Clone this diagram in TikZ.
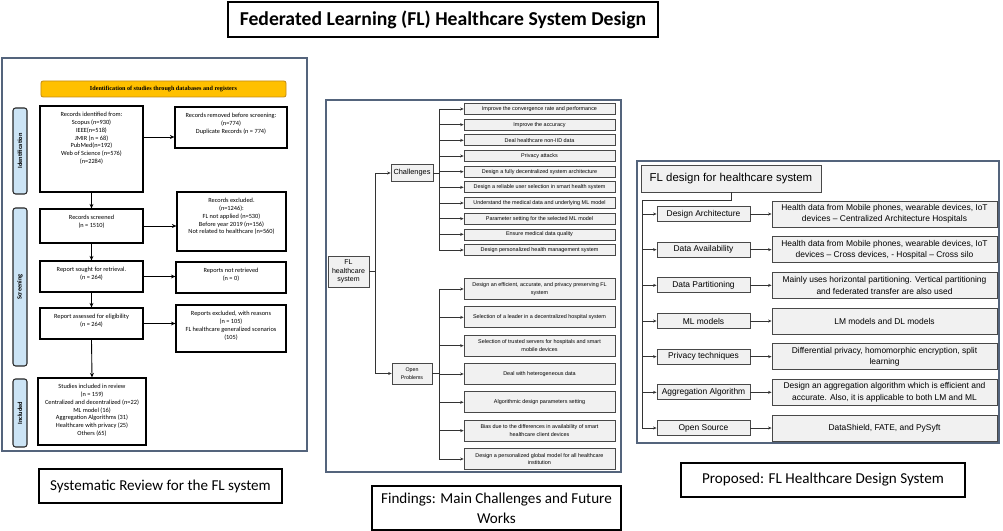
\documentclass[tikz,border=0pt]{standalone}
\usepackage{fontspec}
\setmainfont{Carlito}
\newfontfamily\arialfont{Liberation Sans}
\newfontfamily\timesfont{Liberation Serif}
\usepackage{tikz}
\usetikzlibrary{positioning}
\usetikzlibrary {arrows.meta}
\definecolor{panelline}{RGB}{84,100,124}
\definecolor{sideblue}{RGB}{204,228,245}
\definecolor{headyellow}{RGB}{255,192,0}
\definecolor{headline}{RGB}{196,140,20}
\definecolor{boxfill}{RGB}{241,241,241}
\definecolor{boxline}{RGB}{72,72,72}
\newcommand{\toplines}[3]{\parbox[c][#2][t]{#1}{\centering\vspace*{1.1mm}\begin{tabular}{@{}c@{}}#3\end{tabular}\par}}
\tikzset{prisma/.style={rectangle,draw=black,fill=white,line width=0.7pt,
inner sep=0pt,font=\fontsize{3.6pt}{4.4pt}\selectfont}}
\tikzset{prismaside/.style={rectangle,rounded corners=1.5pt,draw=black!85,fill=sideblue,line width=0.6pt,
inner sep=0pt,rotate=90,minimum height=2.8mm,font=\bfseries\fontsize{3.6pt}{4.4pt}\selectfont}}
\tikzset{prismahead/.style={rectangle,rounded corners=1.2pt,draw=headline,fill=headyellow,line width=0.5pt,
inner sep=0pt,minimum width=49mm,minimum height=3.2mm,font=\timesfont\bfseries\fontsize{3.5pt}{4.2pt}\selectfont}}
\tikzset{findbox/.style={rectangle,draw=boxline,fill=boxfill,line width=0.4pt,align=center,
inner sep=0.3pt,minimum width=30.2mm,font=\arialfont\fontsize{3.1pt}{4.2pt}\selectfont}}
\tikzset{designbox/.style={rectangle,draw=boxline,fill=boxfill,line width=0.5pt,align=center,
inner sep=0.3pt,font=\arialfont\fontsize{4.8pt}{6.6pt}\selectfont}}
\tikzset{caption/.style={rectangle,draw=black,line width=1.1pt,align=center,
inner sep=1pt,minimum height=6.8mm,font=\fontsize{8.6pt}{11.4pt}\selectfont}}
\tikzset{panel/.style={draw=panelline,line width=0.8pt}}
\tikzset{prismaflow/.style={line width=0.5pt,-{Stealth[length=0.9mm,width=0.8mm]}}}
\tikzset{flow/.style={line width=0.4pt,draw=black!80,-{Stealth[length=0.7mm,width=0.6mm]}}}

\begin{document}
\begin{tikzpicture}[x=0.2mm,y=-0.2mm]
\useasboundingbox (0,0) rectangle (1003,531);

\node[caption, line width=1pt, minimum width=86mm, minimum height=7mm, font=\bfseries\fontsize{11.2pt}{13pt}\selectfont] (title) at (443,19.5) {Federated Learning (FL) Healthcare System Design};

\draw[panel] (2,58) rectangle (307,451);
\draw[panel] (326,100) rectangle (621,472);
\draw[panel] (637,161) rectangle (999,443);

% systematic review
\node[prismahead] (head) at (163.5,89) {Identification of studies through databases and registers};
\node[prismaside, minimum width=17.2mm] (sideId) at (20,151) {Identification};
\node[prismaside, minimum width=31.6mm] (sideScr) at (20,287) {Screening};
\node[prismaside, minimum width=13.6mm] (sideInc) at (20,413) {Included};

\node[prisma] (recId) at (91.5,149) {\toplines{20.6mm}{17.2mm}{Records identified from:\\ Scopus (n=930)\\ IEEE(n=518)\\ JMIR (n = 68)\\ PubMed(n=192)\\ Web of Science (n=576)\\ (n=2284)}};
\node[prisma] (recRemoved) at (231,127.5) {\toplines{22.4mm}{8.2mm}{Records removed before screening:\\ (n=774)\\ Duplicate Records (n = 774)}};
\node[prisma] (recScreened) at (91.5,226) {\toplines{20.6mm}{6.8mm}{Records screened\\ (n = 1510)}};
\node[prisma] (recExcluded) at (231.5,221.5) {\toplines{21.8mm}{11.8mm}{Records excluded.\\ (n=1246):\\ FL not applied (n=530)\\ Before year 2019 (n=156)\\ Not related to healthcare (n=560)}};
\node[prisma] (repSought) at (91.5,276.5) {\toplines{20.6mm}{6.2mm}{Report sought for retrieval.\\ (n = 264)}};
\node[prisma] (repNotRet) at (231,277.5) {\toplines{22mm}{6.2mm}{Reports not retrieved\\ (n = 0)}};
\node[prisma] (repAssessed) at (91.5,323.5) {\toplines{20.6mm}{6.2mm}{Report assessed for eligibility\\ (n = 264)}};
\node[prisma] (repExcluded) at (231,328.5) {\toplines{22mm}{9.4mm}{Reports excluded, with reasons\\ (n = 105)\\ FL healthcare generalized scenarios\\ (105)}};
\node[prisma] (studIncl) at (92,411.5) {\toplines{21.6mm}{13.4mm}{Studies included in review\\ (n = 159)\\ Centralized and decentralized (n=22)\\ ML model (16)\\ Aggregation Algorithms (31)\\ Healthcare with privacy (25)\\ Others (65)}};

\draw[prismaflow] ([yshift=2.4mm]recId.east) -- ([yshift=2.4mm]recId.east -| recRemoved.west);
\draw[prismaflow] (recId.south) -- (recScreened.north);
\draw[prismaflow] (recScreened.east) -- (recScreened.east -| recExcluded.west);
\draw[prismaflow] (recScreened.south) -- (repSought.north);
\draw[prismaflow] (repSought.east) -- (repSought.east -| repNotRet.west);
\draw[prismaflow] (repSought.south) -- (repAssessed.north);
\draw[prismaflow] (repAssessed.east) -- (repAssessed.east -| repExcluded.west);
\draw[prismaflow] (repAssessed.south) -- (studIncl.north);

% findings
\node[findbox, minimum width=8.2mm, minimum height=6.2mm, font=\arialfont\fontsize{4pt}{4.8pt}\selectfont] (flRoot) at (348.5,271.5) {FL\\healthcare\\system};
\node[findbox, minimum width=8.4mm, minimum height=3.4mm, font=\arialfont\fontsize{4.2pt}{5pt}\selectfont] (chall) at (412,173) {Challenges};
\node[findbox, minimum width=8mm, minimum height=4.2mm, font=\arialfont\fontsize{3pt}{4.2pt}\selectfont] (openProb) at (412,373.5) {Open\\Problems};
\coordinate (challBus) at (439,0);
\coordinate (openBus) at (439,0);

\foreach \txt [count=\i] in {Improve the convergence rate and performance, Improve the accuracy, Deal healthcare non-IID data, Privacy attacks, Design a fully decentralized system architecture, Design a reliable user selection in smart health system, Understand the medical data and underlying ML model, Parameter setting for the selected ML model, Ensure medical data quality, Design personalized health management system}
  \node[findbox, minimum height=2.2mm] (ch\i) at (539.5,{109+15.67*(\i-1)}) {\txt};

\foreach \txt [count=\i] in {{Design an efficient, accurate, and privacy preserving FL\\system}, Selection of a leader in a decentralized hospital system, Selection of trusted servers for hospitals and smart\\mobile devices, Deal with heterogeneous data, Algorithmic design parameters setting, Bias due to the differences in availability of smart\\healthcare client devices, Design a personalized global model for all healthcare\\institution}
  \node[findbox, minimum height=4.2mm] (op\i) at (539.5,{289+28.33*(\i-1)}) {\txt};

\draw[flow] (flRoot.east) -- ++(6,0) |- (chall.west);
\draw[flow] (flRoot.east) -- ++(6,0) |- (openProb.west);
\draw[line width=0.4pt,black!80] (chall.east) -- (chall.east -| challBus);
\draw[line width=0.4pt,black!80] (ch1.west -| challBus) -- (ch10.west -| challBus);
\foreach \i in {1,...,10}
  \draw[flow] (ch\i.west -| challBus) -- (ch\i.west);
\draw[line width=0.4pt,black!80] (openProb.east) -- (openProb.east -| openBus);
\draw[line width=0.4pt,black!80] (op1.west -| openBus) -- (op7.west -| openBus);
\foreach \i in {1,...,7}
  \draw[flow] (op\i.west -| openBus) -- (op\i.west);

% design system
\node[designbox, minimum width=36mm, minimum height=5.4mm, font=\arialfont\fontsize{6.5pt}{7.5pt}\selectfont] (flDesign) at (731,178.5) {FL design for healthcare system};
\coordinate (designBus) at (642,0);

\foreach \txt [count=\i] in {Design Architecture, Data Availability, Data Partitioning, ML models, Privacy techniques, Aggregation Algorithm, Open Source}
  \node[designbox, minimum width=18.6mm, minimum height=3mm] (key\i) at (703.5,{214+35.67*(\i-1)}) {\txt};

\foreach \txt [count=\i] in {{Health data from Mobile phones, wearable devices, IoT\\devices – Centralized Architecture Hospitals},
  {Health data from Mobile phones, wearable devices, IoT\\devices – Cross devices, - Hospital – Cross silo},
  {Mainly uses horizontal partitioning. Vertical partitioning\\and federated transfer are also used},
  LM models and DL models,
  {Differential privacy, homomorphic encryption, split\\learning},
  {Design an aggregation algorithm which is efficient and\\accurate. Also, it is applicable to both LM and ML},
  {DataShield, FATE, and PySyft}}
  \node[designbox, minimum width=45mm, minimum height=5.2mm] (val\i) at (884.5,{214+35.67*(\i-1)}) {\txt};

\draw[flow] (flDesign.south) -- ++(0,8) -| (key7.west -| designBus) -- (key7.west);
\foreach \i in {1,...,6}
  \draw[flow] (key\i.west -| designBus) -- (key\i.west);
\foreach \i in {1,...,7}
  \draw[flow] (key\i.east) -- (val\i.west);

\node[caption, minimum width=48.6mm] (capReview) at (160.5,486) {Systematic Review for the FL system};
\node[caption, minimum width=49.8mm, minimum height=8.8mm] (capFindings) at (496.5,508) {Findings: Main Challenges and Future\\Works};
\node[caption, minimum width=56.8mm] (capProposed) at (823,480) {Proposed: FL Healthcare Design System};

\end{tikzpicture}
\end{document}
